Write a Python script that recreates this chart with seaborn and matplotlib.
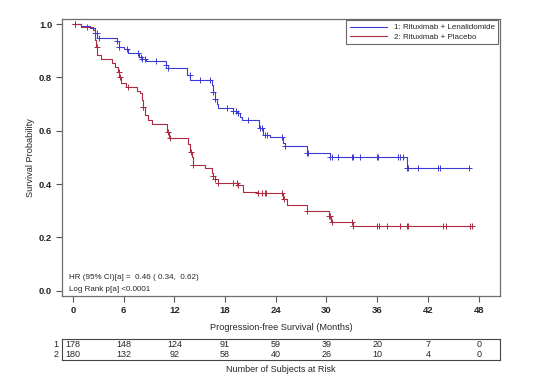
import numpy as np
import pandas as pd
import matplotlib
matplotlib.use('Agg')
import matplotlib.pyplot as plt
import seaborn as sns

# Kaplan-Meier estimates (months, survival after the step)
len_label = '1: Rituximab + Lenalidomide'
len_times = [1.0, 2.0, 2.6, 2.9, 5.2, 5.5, 6.0, 6.5, 7.8, 8.2, 8.6, 11.0, 11.3,
             13.5, 13.9, 16.4, 16.6, 16.8, 17.0, 17.2, 18.9, 19.4, 19.8, 20.0,
             22.0, 22.5, 23.3, 24.9, 25.1, 27.7, 30.4, 39.5]
len_surv = [0.994, 0.985, 0.966, 0.95, 0.936, 0.915, 0.905, 0.89, 0.876, 0.87,
            0.862, 0.846, 0.835, 0.81, 0.79, 0.77, 0.745, 0.72, 0.70, 0.685,
            0.675, 0.665, 0.652, 0.64, 0.612, 0.585, 0.575, 0.555, 0.541,
            0.515, 0.502, 0.459]
len_end = 46.9
len_censored = [0.2, 2.6, 2.8, 3.1, 5.2, 5.5, 6.4, 7.7, 8.0, 8.2, 8.5, 9.8, 11.0,
                11.3, 13.8, 15.0, 16.2, 16.6, 16.8, 18.2, 18.9, 19.3, 19.5, 20.7,
                22.1, 22.4, 22.7, 23.0, 24.7, 25.1, 27.7, 27.8, 30.4, 30.6, 31.4,
                33.0, 33.1, 34.0, 36.0, 36.1, 38.5, 38.7, 39.0, 39.5, 39.6, 40.8,
                43.2, 43.4, 46.9]

pla_label = '2: Rituximab + Placebo'
pla_times = [1.0, 2.4, 2.6, 2.7, 2.9, 3.3, 4.6, 5.0, 5.3, 5.5, 5.7, 6.3, 7.6,
             7.9, 8.2, 8.3, 8.5, 8.9, 9.3, 11.1, 11.4, 13.6, 13.9, 14.1, 14.2,
             15.6, 16.4, 16.6, 16.8, 17.2, 19.5, 20.1, 21.8, 24.9, 25.3, 27.7,
             30.3, 30.5, 33.1]
pla_surv = [0.99, 0.978, 0.94, 0.914, 0.883, 0.87, 0.853, 0.84, 0.82, 0.80,
            0.78, 0.765, 0.75, 0.74, 0.715, 0.69, 0.66, 0.64, 0.625, 0.595,
            0.571, 0.55, 0.52, 0.50, 0.47, 0.46, 0.44, 0.43, 0.42, 0.405, 0.395,
            0.37, 0.365, 0.345, 0.32, 0.297, 0.28, 0.256, 0.241]
pla_end = 47.3
pla_censored = [0.2, 1.7, 2.8, 5.4, 5.6, 6.5, 8.3, 8.35, 11.3, 11.5, 14.0, 14.2,
                16.6, 16.8, 17.2, 18.9, 19.4, 19.5, 21.9, 22.4, 22.7, 22.9, 24.7,
                25.0, 27.7, 30.3, 30.4, 30.6, 33.0, 33.1, 36.0, 36.2, 37.1, 38.7,
                39.5, 39.6, 43.8, 44.1, 47.0, 47.2]

risk_times = [0, 6, 12, 18, 24, 30, 36, 42, 48]
risk_len = [178, 148, 124, 91, 59, 39, 20, 7, 0]
risk_pla = [180, 132, 92, 58, 40, 26, 10, 4, 0]

blue = '#3b3bd4'
red = '#ad2a40'

sns.set_style('white')
plt.rcParams['font.family'] = ['Liberation Sans Narrow', 'Liberation Sans', 'DejaVu Sans']

fig = plt.figure(figsize=(5.48, 3.77), dpi=100)
ax = fig.add_axes([0.113, 0.215, 0.799, 0.735])
rt = fig.add_axes([0.113, 0.045, 0.799, 0.056])


def km_frame(times, surv, end):
    t = [0.0] + list(times) + [end]
    s = [1.0] + list(surv) + [surv[-1]]
    return pd.DataFrame({'time': t, 'surv': s})


def censor_frame(km, cens):
    idx = np.searchsorted(km['time'].values, cens, side='right') - 1
    return pd.DataFrame({'time': cens, 'surv': km['surv'].values[idx]})


for times, surv, end, cens, color, label in [
        (len_times, len_surv, len_end, len_censored, blue, len_label),
        (pla_times, pla_surv, pla_end, pla_censored, red, pla_label)]:
    km = km_frame(times, surv, end)
    sns.lineplot(data=km, x='time', y='surv', drawstyle='steps-post',
                 estimator=None, sort=False, color=color, linewidth=0.8,
                 label=label, ax=ax)
    cf = censor_frame(km, cens)
    sns.scatterplot(data=cf, x='time', y='surv', marker='+', s=22,
                    color=color, edgecolor=color, linewidth=0.7,
                    legend=False, ax=ax)

ax.set_xlim(-1.3, 50.5)
ax.set_ylim(-0.02, 1.02)
ax.set_xticks(risk_times)
ax.set_yticks([0.0, 0.2, 0.4, 0.6, 0.8, 1.0])
ax.set_yticklabels(['0.0', '0.2', '0.4', '0.6', '0.8', '1.0'])
ax.tick_params(axis='both', labelsize=6.8, length=4, width=0.8, color='#555555',
               direction='out', bottom=True, left=True, pad=3)
for lab in ax.get_xticklabels() + ax.get_yticklabels():
    lab.set_fontweight('bold')
for sp in ax.spines.values():
    sp.set_color('#6e6e6e')
    sp.set_linewidth(0.9)
ax.set_xlabel('Progression-free Survival (Months)', fontsize=6.6, labelpad=6)
ax.set_ylabel('Survival Probability', fontsize=6.6, labelpad=3)

leg = ax.legend(loc='upper right', fontsize=5.8, frameon=True, fancybox=False,
                handlelength=4.6, borderaxespad=0.2, borderpad=0.4,
                labelspacing=0.25, handletextpad=0.9)
leg.get_frame().set_edgecolor('#444444')
leg.get_frame().set_linewidth(0.8)

ax.text(0.016, 0.065, 'HR (95% CI)[a] =  0.46 ( 0.34,  0.62)', transform=ax.transAxes,
        fontsize=5.8, ha='left', va='center')
ax.text(0.016, 0.025, 'Log Rank p[a] <0.0001', transform=ax.transAxes,
        fontsize=5.8, ha='left', va='center')

# number at risk table
rt.set_xlim(ax.get_xlim())
rt.set_ylim(0, 2)
rt.set_xticks([])
rt.set_yticks([])
for sp in rt.spines.values():
    sp.set_color('#444444')
    sp.set_linewidth(0.8)
for t, a, b in zip(risk_times, risk_len, risk_pla):
    rt.text(t, 1.45, str(a), fontsize=6.5, ha='center', va='center')
    rt.text(t, 0.5, str(b), fontsize=6.5, ha='center', va='center')
rt.text(-0.008, 0.72, '1', transform=rt.transAxes, fontsize=6.5, ha='right', va='center')
rt.text(-0.008, 0.25, '2', transform=rt.transAxes, fontsize=6.5, ha='right', va='center')
rt.text(0.5, -0.45, 'Number of Subjects at Risk', transform=rt.transAxes,
        fontsize=6.5, ha='center', va='center')

fig.savefig('out.png', dpi=100)
